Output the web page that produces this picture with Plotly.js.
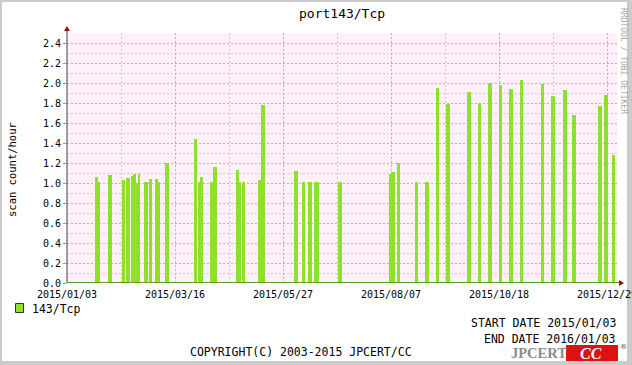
<!DOCTYPE html>
<html>
<head>
<meta charset="utf-8">
<script src="https://cdn.plot.ly/plotly-3.0.1.min.js"></script>
<style>
  html, body { margin: 0; padding: 0; }
  body { width: 632px; height: 365px; background: #cbcbcb; position: relative; overflow: hidden; }
  #frame { position: absolute; left: 2px; top: 2px; width: 625px; height: 359px; background: #ffffff; }
  #chart { position: absolute; left: 0; top: 0; width: 632px; height: 365px; }
</style>
</head>
<body>
<div id="frame"></div>
<div id="chart"></div>
<script>
// ---- data ----
const startDates = ['2015-01-21 12:00','2015-01-23 12:00','2015-01-30 12:00','2015-02-08 12:00','2015-02-11 12:00','2015-02-14 12:00','2015-02-16','2015-02-18','2015-02-19','2015-02-23 12:00','2015-02-26 12:00','2015-03-02 12:00','2015-03-04 12:00','2015-03-09 12:00','2015-03-28 12:00','2015-03-31 12:00','2015-04-01 12:00','2015-04-08 12:00','2015-04-10 12:00','2015-04-25 12:00','2015-04-27 12:00','2015-04-29 12:00','2015-05-10 12:00','2015-05-12 12:00','2015-06-03 12:00','2015-06-08 12:00','2015-06-12 12:00','2015-06-16 12:00','2015-06-18','2015-07-02 12:00','2015-08-05 12:00','2015-08-07','2015-08-11','2015-08-23','2015-08-29 12:00','2015-09-06','2015-09-12 12:00','2015-09-26 12:00','2015-10-04','2015-10-10 12:00','2015-10-18','2015-10-24 12:00','2015-11-01','2015-11-15','2015-11-21 12:00','2015-11-29 12:00','2015-12-05 12:00','2015-12-23','2015-12-27','2016-01-01 12:00'];
const endDates = ['2015-01-23 12:00','2015-01-25','2015-02-02','2015-02-10 12:00','2015-02-14','2015-02-16','2015-02-18','2015-02-19','2015-02-20 12:00','2015-02-26','2015-02-28 12:00','2015-03-04 12:00','2015-03-06','2015-03-12','2015-03-30 12:00','2015-04-01 12:00','2015-04-03 12:00','2015-04-10 12:00','2015-04-13','2015-04-27 12:00','2015-04-29','2015-05-01 12:00','2015-05-12 12:00','2015-05-15','2015-06-06','2015-06-10 12:00','2015-06-15 12:00','2015-06-18','2015-06-20','2015-07-05 12:00','2015-08-07','2015-08-09 12:00','2015-08-13','2015-08-25','2015-09-01 12:00','2015-09-08','2015-09-15 12:00','2015-09-29 12:00','2015-10-06','2015-10-13 12:00','2015-10-20','2015-10-27 12:00','2015-11-03','2015-11-17','2015-11-24 12:00','2015-12-02 12:00','2015-12-08 12:00','2015-12-25 12:00','2015-12-29 12:00','2016-01-03 12:00'];
const rates = [1.06,1.01,1.08,1.03,1.05,1.07,1.09,1.00,1.09,1.01,1.04,1.04,1.01,1.20,1.44,1.01,1.06,1.01,1.16,1.13,1.01,1.01,1.03,1.78,1.12,1.01,1.01,1.01,1.01,1.01,1.09,1.11,1.20,1.01,1.01,1.95,1.79,1.91,1.80,2.00,1.98,1.94,2.03,1.99,1.87,1.93,1.68,1.77,1.88,1.28];
const seriesName = '143/Tcp';
const chartTitle = 'port143/Tcp';
const yTitle = 'scan count/hour';
const startLabel = 'START DATE 2015/01/03';
const endLabel = 'END DATE 2016/01/03';
const copyright = 'COPYRIGHT(C) 2003-2015 JPCERT/CC';
const xStart = '2015-01-03';
const xEnd = '2016-01-04 16:00';

// ---- build ----
const toMs = s => Date.parse(s.replace(' ', 'T') + (s.length > 10 ? ':00Z' : 'T00:00:00Z'));
const widths = startDates.map((s, i) => toMs(endDates[i]) - toMs(s));
const DAY = 86400000;
const GREEN = '#8ee02c';
const MONO = 'DejaVu Sans Mono, monospace';
const MAJ = '#e6a2aa';
const MIN = '#d8c2d8';

// pixel helpers for decorations (plot area: x 67..617, y 33..283)
const L = 67, T = 33, W = 550, H = 250;
const px = x => (x - L) / W;
const py = y => (T + H - y) / H;

const trace = {
  type: 'bar', x: startDates, y: rates, width: widths, offset: 0,
  marker: { color: GREEN, line: { width: 0 } }, name: seriesName,
  showlegend: false, hoverinfo: 'skip'
};

const ann = (text, x, y, opts = {}) => Object.assign({
  text, x: px(x), y: py(y), xref: 'paper', yref: 'paper', showarrow: false,
  font: { family: MONO, size: 11.5, color: '#000' }, xanchor: 'center', yanchor: 'middle'
}, opts);

const layout = {
  width: 632, height: 365,
  margin: { l: L, r: 632 - L - W, t: T, b: 365 - T - H, pad: 0 },
  paper_bgcolor: 'rgba(0,0,0,0)', plot_bgcolor: '#fff0fa',
  showlegend: false, bargap: 0,
  font: { family: MONO, size: 10, color: '#000' },
  xaxis: {
    type: 'date', range: [xStart, xEnd], tick0: xStart, dtick: 72 * DAY,
    tickformat: '%Y/%m/%d', tickfont: { family: MONO, size: 10, color: '#000' },
    ticklabeloverflow: 'allow',
    showgrid: true, gridcolor: MAJ, griddash: '2px,2px', gridwidth: 1,
    minor: { tick0: xStart, dtick: 36 * DAY, showgrid: true, gridcolor: MIN, griddash: '2px,2px', gridwidth: 1 },
    zeroline: false, showline: false, ticks: 'outside', ticklen: 2, tickcolor: 'rgba(0,0,0,0)', fixedrange: true
  },
  yaxis: {
    range: [0, 2.5], tick0: 0, dtick: 0.2, tickformat: '.1f',
    tickfont: { family: MONO, size: 10, color: '#000' },
    showgrid: true, gridcolor: MAJ, griddash: '2px,2px', gridwidth: 1,
    minor: { tick0: 0, dtick: 0.1, showgrid: true, gridcolor: MIN, griddash: '2px,2px', gridwidth: 1 },
    ticks: 'outside', ticklen: 3, tickcolor: '#c08080',
    zeroline: false, showline: false, fixedrange: true
  },
  shapes: [
    // zero baseline
    { type: 'line', xref: 'paper', yref: 'y', x0: 0, x1: px(619), y0: 0, y1: 0, line: { color: '#5f9e1c', width: 2 } },
    // left axis line
    { type: 'line', xref: 'paper', yref: 'paper', x0: 0, x1: 0, y0: 0, y1: py(30), line: { color: '#404040', width: 1 } },
    // arrows
    { type: 'path', xref: 'paper', yref: 'paper', path: `M ${px(64)},${py(31)} L ${px(70)},${py(31)} L ${px(67)},${py(26)} Z`, fillcolor: '#8b1010', line: { width: 0 } },
    { type: 'path', xref: 'paper', yref: 'paper', path: `M ${px(619)},${py(280)} L ${px(619)},${py(286)} L ${px(624)},${py(283)} Z`, fillcolor: '#8b1010', line: { width: 0 } },
    // legend swatch
    { type: 'rect', xref: 'paper', yref: 'paper', x0: px(15.5), x1: px(23.5), y0: py(312.5), y1: py(303.5), fillcolor: GREEN, line: { color: '#333', width: 1 } },
    // CC red box
    { type: 'rect', xref: 'paper', yref: 'paper', x0: px(566), x1: px(618), y0: py(361), y1: py(345), fillcolor: '#dd1111', line: { width: 0 } }
  ],
  annotations: [
    ann(chartTitle, 341.5, 14, { font: { family: MONO, size: 13, color: '#000' } }),
    ann(yTitle, 12, 170, { textangle: -90, font: { family: MONO, size: 10.5, color: '#000' } }),
    ann('RRDTOOL / TOBI OETIKER', 624, 61, { textangle: 90, font: { family: MONO, size: 8, color: '#a8a8a8' } }),
    ann(seriesName, 30, 309, { xanchor: 'left', font: { family: MONO, size: 11.5, color: '#000' } }),
    ann(startLabel, 618, 323, { xanchor: 'right' }),
    ann(endLabel, 618, 339, { xanchor: 'right' }),
    ann(copyright, 301, 352),
    ann('<b>JPCERT</b>', 539, 353, { height: 14, valign: 'middle', font: { family: 'Liberation Serif, serif', size: 14.5, color: '#8c8c8c' } }),
    ann('<b><i>CC</i></b>', 591, 353, { height: 14, valign: 'middle', font: { family: 'Liberation Serif, serif', size: 16, color: '#ffffff' } }),
    ann('®', 623, 347, { height: 8, font: { family: 'DejaVu Sans, sans-serif', size: 7, color: '#555' } })
  ]
};

Plotly.newPlot('chart', [trace], layout, { displayModeBar: false, staticPlot: true });
</script>
</body>
</html>
